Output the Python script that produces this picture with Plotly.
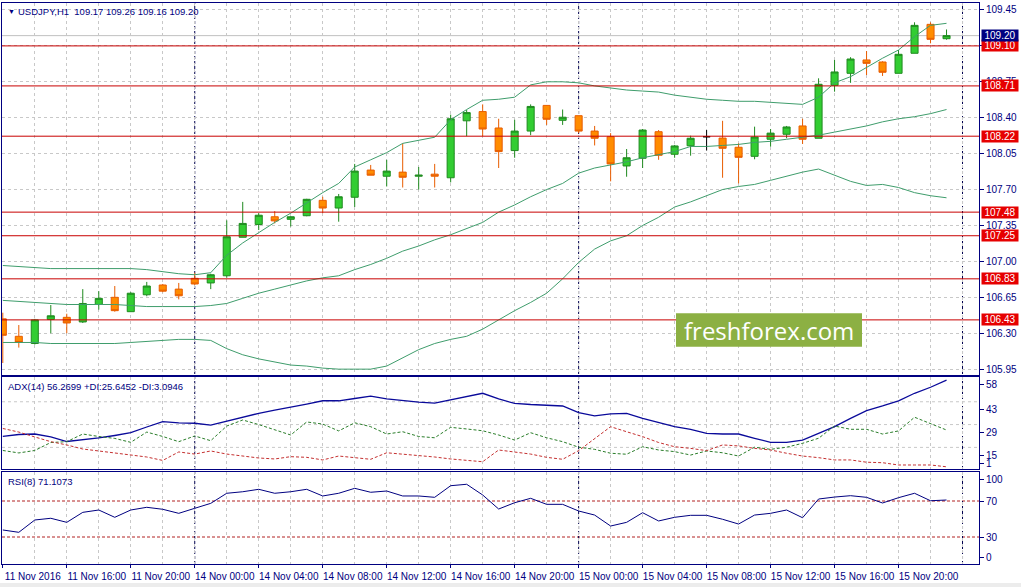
import plotly.graph_objects as go
from plotly.subplots import make_subplots

# USDJPY H1, 11 Nov 2016 12:00 .. 15 Nov 2016 23:00
bar_open = [106.44, 106.27, 106.20, 106.435, 106.455, 106.41, 106.58, 106.65, 106.51, 106.675,
            106.77, 106.73, 106.835, 106.79, 106.86, 107.235, 107.36, 107.435, 107.41, 107.445,
            107.595, 107.52, 107.625, 107.89, 107.83, 107.87, 107.83, 107.85, 107.815, 108.37,
            108.46, 108.30, 108.08, 108.27, 108.52, 108.375, 108.42, 108.27, 108.215, 107.93,
            108.005, 108.264, 108.044, 108.127, 108.215, 108.202, 108.112, 108.024, 108.19, 108.239,
            108.32, 108.20, 108.716, 108.833, 108.963, 108.943, 108.833, 109.028, 109.31, 109.17]
bar_high = [106.50, 106.38, 106.44, 106.575, 106.49, 106.73, 106.71, 106.76, 106.70, 106.80,
            106.78, 106.79, 106.89, 106.88, 107.40, 107.58, 107.47, 107.49, 107.44, 107.61,
            107.63, 107.657, 107.95, 107.94, 107.99, 108.15, 107.92, 107.95, 108.43, 108.475,
            108.53, 108.39, 108.38, 108.53, 108.52, 108.48, 108.42, 108.32, 108.25, 108.095,
            108.29, 108.28, 108.135, 108.225, 108.28, 108.37, 108.15, 108.313, 108.29, 108.32,
            108.39, 108.784, 108.963, 108.99, 109.05, 108.95, 109.06, 109.33, 109.33, 109.26]
bar_low = [106.01, 106.16, 106.19, 106.30, 106.30, 106.40, 106.53, 106.51, 106.51, 106.66,
           106.70, 106.63, 106.77, 106.73, 106.84, 107.235, 107.306, 107.37, 107.34, 107.44,
           107.47, 107.387, 107.53, 107.84, 107.73, 107.72, 107.70, 107.72, 107.77, 108.22,
           108.22, 107.91, 108.01, 108.23, 108.33, 108.33, 108.25, 108.13, 107.78, 107.825,
           107.91, 107.99, 108.01, 108.03, 108.08, 107.815, 107.76, 107.995, 108.118, 108.20,
           108.144, 108.20, 108.654, 108.74, 108.816, 108.807, 108.833, 109.028, 109.125, 109.16]
bar_close = [106.28, 106.21, 106.43, 106.47, 106.40, 106.59, 106.64, 106.52, 106.69, 106.76,
             106.71, 106.665, 106.78, 106.87, 107.24, 107.37, 107.45, 107.395, 107.435, 107.605,
             107.52, 107.63, 107.88, 107.84, 107.88, 107.82, 107.84, 107.83, 108.39, 108.45,
             108.29, 108.07, 108.27, 108.51, 108.385, 108.405, 108.27, 108.20, 107.95, 108.01,
             108.28, 108.034, 108.125, 108.20, 108.215, 108.102, 108.014, 108.212, 108.25, 108.31,
             108.19, 108.726, 108.846, 108.972, 108.93, 108.843, 109.018, 109.30, 109.164, 109.20]

bb_upper = [106.96, 106.95, 106.94, 106.93, 106.93, 106.93, 106.93, 106.93, 106.93, 106.92,
            106.90, 106.88, 106.87, 106.89, 107.06, 107.18, 107.28, 107.38, 107.47, 107.57,
            107.67, 107.76, 107.92, 107.99, 108.06, 108.15, 108.18, 108.21, 108.38, 108.48,
            108.57, 108.58, 108.60, 108.72, 108.75, 108.75, 108.74, 108.71, 108.69, 108.67,
            108.66, 108.65, 108.62, 108.60, 108.58, 108.57, 108.56, 108.56, 108.55, 108.54,
            108.53, 108.60, 108.74, 108.80, 108.89, 108.98, 109.06, 109.19, 109.30, 109.32]
bb_middle = [106.62, 106.61, 106.60, 106.59, 106.58, 106.58, 106.58, 106.58, 106.57, 106.56,
             106.56, 106.56, 106.56, 106.57, 106.59, 106.64, 106.69, 106.73, 106.77, 106.81,
             106.84, 106.86, 106.92, 106.97, 107.03, 107.10, 107.15, 107.21, 107.26, 107.32,
             107.38, 107.48, 107.55, 107.63, 107.70, 107.76, 107.86, 107.91, 107.94, 107.97,
             108.01, 108.04, 108.07, 108.12, 108.12, 108.13, 108.14, 108.16, 108.17, 108.19,
             108.21, 108.23, 108.26, 108.29, 108.32, 108.36, 108.39, 108.41, 108.44, 108.48]
bb_lower = [106.21, 106.21, 106.21, 106.20, 106.20, 106.20, 106.20, 106.20, 106.21, 106.22,
            106.23, 106.24, 106.24, 106.23, 106.15, 106.09, 106.05, 106.02, 105.99, 105.98,
            105.96, 105.95, 105.95, 105.95, 105.98, 106.06, 106.14, 106.20, 106.24, 106.27,
            106.34, 106.43, 106.52, 106.60, 106.69, 106.83, 106.99, 107.12, 107.20, 107.25,
            107.35, 107.43, 107.53, 107.58, 107.64, 107.70, 107.73, 107.75, 107.79, 107.83,
            107.87, 107.90, 107.84, 107.78, 107.74, 107.75, 107.72, 107.67, 107.64, 107.62]

adx = [21.7, 22.9, 23.2, 21.4, 18.6, 19.5, 20.8, 22.3, 24.0, 27.5,
       30.8, 30.0, 29.8, 28.7, 31.2, 33.6, 35.9, 37.9, 39.6, 41.6,
       43.6, 43.6, 45.0, 46.5, 44.7, 43.6, 42.8, 42.2, 44.1, 46.2,
       48.2, 44.7, 42.0, 41.3, 41.0, 40.4, 36.3, 34.3, 35.5, 35.9,
       32.8, 30.3, 27.7, 26.1, 23.6, 23.2, 23.2, 20.6, 18.1, 18.1,
       19.5, 23.6, 27.7, 32.8, 37.5, 40.4, 43.6, 48.2, 51.9, 56.27]
plus_di = [13.1, 11.6, 13.1, 18.0, 18.5, 23.2, 21.7, 20.5, 18.1, 24.4,
           21.7, 18.5, 22.0, 19.1, 28.1, 31.8, 29.0, 25.7, 22.6, 30.6,
           29.3, 25.1, 30.1, 27.7, 23.2, 24.6, 21.7, 20.9, 27.3, 26.3,
           25.2, 22.6, 19.5, 24.0, 20.9, 18.5, 15.1, 13.8, 11.4, 10.8,
           15.4, 13.4, 12.4, 10.3, 12.8, 11.7, 9.7, 15.1, 13.8, 15.1,
           17.5, 20.6, 28.1, 26.1, 26.1, 23.2, 25.1, 33.5, 29.8, 25.65]
minus_di = [26.6, 24.4, 21.4, 18.5, 16.5, 14.0, 12.8, 11.6, 10.3, 9.1,
            7.0, 12.2, 10.9, 12.8, 10.9, 9.7, 8.5, 7.9, 9.3, 8.9,
            7.3, 9.7, 8.9, 7.7, 11.7, 10.9, 10.0, 9.1, 7.9, 7.0,
            6.2, 13.4, 12.0, 10.9, 8.9, 7.7, 13.0, 20.6, 27.7, 24.6,
            21.6, 18.0, 15.4, 14.4, 13.0, 16.5, 15.9, 14.4, 13.4, 11.4,
            9.7, 8.7, 7.3, 7.3, 5.9, 5.6, 4.2, 4.2, 4.2, 3.09]
rsi = [37.8, 35.2, 48.9, 50.8, 46.3, 57.4, 60.0, 51.9, 60.0, 63.0,
       60.8, 56.3, 61.9, 67.4, 78.6, 80.3, 83.0, 78.6, 80.3, 83.0,
       75.6, 78.6, 84.1, 79.7, 81.1, 75.6, 75.6, 74.1, 87.0, 88.6,
       76.7, 61.1, 68.1, 73.0, 66.3, 66.3, 58.9, 54.4, 42.2, 46.3,
       57.0, 47.8, 51.9, 54.1, 54.1, 49.7, 44.4, 54.4, 56.3, 60.0,
       51.4, 72.2, 74.4, 75.9, 74.1, 67.8, 73.7, 78.6, 70.3, 71.11]

levels = [109.10, 108.71, 108.22, 107.48, 107.25, 106.83, 106.43]
bid = 109.20
price_ticks = [109.45, 109.10, 108.75, 108.40, 108.05, 107.70, 107.35, 107.00, 106.65, 106.30, 105.95]
x_labels = ["11 Nov 2016", "11 Nov 16:00", "11 Nov 20:00", "14 Nov 00:00", "14 Nov 04:00",
            "14 Nov 08:00", "14 Nov 12:00", "14 Nov 16:00", "14 Nov 20:00", "15 Nov 00:00",
            "15 Nov 04:00", "15 Nov 08:00", "15 Nov 12:00", "15 Nov 16:00", "15 Nov 20:00"]
day_breaks = [12, 36, 60]
rsi_levels = [70, 30]
adx_grid = [43, 29, 15]

NAVY = "#000080"
GRID = "#c8c8c8"
FONT = "Liberation Sans"

def px_x(p):
    return (p - 2) / 977

def px_y(p):
    return (564 - p) / 561

xs = list(range(len(bar_open)))
norm = [i for i in xs if bar_open[i] != bar_close[i]]
doji = [i for i in xs if bar_open[i] == bar_close[i]]

fig = make_subplots(rows=3, cols=1, shared_xaxes=True, vertical_spacing=0.0)

for band in (bb_upper, bb_middle, bb_lower):
    fig.add_trace(go.Scatter(x=xs, y=band, mode="lines", line=dict(color="#3f9d6c", width=1),
                             hoverinfo="skip"), row=1, col=1)

fig.add_trace(go.Candlestick(
    x=norm,
    open=[bar_open[i] for i in norm], high=[bar_high[i] for i in norm],
    low=[bar_low[i] for i in norm], close=[bar_close[i] for i in norm],
    increasing=dict(line=dict(color="#1f8a1f", width=1), fillcolor="#32cd32"),
    decreasing=dict(line=dict(color="#e85d00", width=1), fillcolor="#ff8c00"),
    whiskerwidth=0,
), row=1, col=1)
fig.add_trace(go.Candlestick(
    x=doji,
    open=[bar_open[i] for i in doji], high=[bar_high[i] for i in doji],
    low=[bar_low[i] for i in doji], close=[bar_close[i] for i in doji],
    increasing=dict(line=dict(color="black", width=1), fillcolor="black"),
    decreasing=dict(line=dict(color="black", width=1), fillcolor="black"),
    whiskerwidth=0,
), row=1, col=1)

fig.add_trace(go.Scatter(x=xs, y=adx, mode="lines", line=dict(color="#0a0a9a", width=1.3)), row=2, col=1)
fig.add_trace(go.Scatter(x=xs, y=plus_di, mode="lines",
                         line=dict(color="#2a7d2a", width=1, dash="3px,2px")), row=2, col=1)
fig.add_trace(go.Scatter(x=xs, y=minus_di, mode="lines",
                         line=dict(color="#c43030", width=1, dash="3px,2px")), row=2, col=1)

fig.add_trace(go.Scatter(x=xs, y=rsi, mode="lines", line=dict(color=NAVY, width=1)), row=3, col=1)

x_common = dict(
    range=[-0.05, 61.03], showline=True, linecolor=NAVY, linewidth=1, mirror=True,
    tickmode="array", tickvals=list(range(0, 60, 4)), ticktext=x_labels,
    showgrid=True, gridcolor=GRID, griddash="3px,3px", gridwidth=1, zeroline=False,
    minor=dict(dtick=2, tick0=0, showgrid=True, gridcolor=GRID, griddash="3px,3px", ticks=""),
    rangeslider=dict(visible=False),
)
fig.update_layout(
    xaxis=dict(x_common, showticklabels=False, ticks=""),
    xaxis2=dict(x_common, showticklabels=False, ticks=""),
    xaxis3=dict(x_common, ticks="outside", ticklen=3, tickcolor=NAVY, ticklabelshift=30,
                tickfont=dict(family=FONT, size=10, color=NAVY)),
)

y_common = dict(side="right", showline=True, linecolor=NAVY, linewidth=1, mirror=True,
                ticks="outside", ticklen=4, tickcolor=NAVY, zeroline=False,
                tickfont=dict(family=FONT, size=10, color=NAVY))
fig.update_layout(
    yaxis=dict(y_common, domain=[px_y(375), 1.0], range=[105.893, 109.518],
               tickvals=price_ticks, ticktext=[f"{v:.2f}" for v in price_ticks],
               showgrid=True, gridcolor=GRID, griddash="3px,3px"),
    yaxis2=dict(y_common, domain=[px_y(469), px_y(377.3)], range=[1.74, 58],
                tickvals=[53.3, 38.4, 24.0, 9.9, 5.2], ticktext=["58", "43", "29", "15", "1"],
                showgrid=False),
    yaxis3=dict(y_common, domain=[0, px_y(472.3)], range=[0, 101.9],
                tickvals=[94.4, 70, 30, 6.7], ticktext=["100", "70", "30", "0"],
                showgrid=False),
)

# grid of the ADX window and the RSI levels
for v in adx_grid:
    fig.add_shape(type="line", xref="x2 domain", x0=0, x1=1, yref="y2", y0=v, y1=v,
                  line=dict(color=GRID, width=1, dash="3px,3px"), layer="below")
for v in rsi_levels:
    fig.add_shape(type="line", xref="x3 domain", x0=0, x1=1, yref="y3", y0=v, y1=v,
                  line=dict(color="#b22222", width=1, dash="3px,2px"), layer="below")

# day separators
for d in day_breaks:
    fig.add_shape(type="line", xref="x", x0=d, x1=d, yref="paper", y0=0, y1=1,
                  line=dict(color="#000050", width=1, dash="3px,2px"), layer="below")

# bid line and horizontal levels
fig.add_shape(type="line", xref="x domain", x0=0, x1=1, yref="y", y0=bid, y1=bid,
              line=dict(color="#c0c0c0", width=1), layer="below")
for lv in levels:
    fig.add_shape(type="line", xref="x domain", x0=0, x1=1, yref="y", y0=lv, y1=lv,
                  line=dict(color="#c80000", width=1), layer="above")
    fig.add_annotation(x=1, xref="paper", xanchor="left", xshift=2, y=lv, yref="y",
                       yanchor="middle", text=f"{lv:.2f}", showarrow=False, bgcolor="#e60000",
                       width=36, height=11, borderpad=0,
                       font=dict(family=FONT, size=10, color="white"))
fig.add_annotation(x=1, xref="paper", xanchor="left", xshift=2, y=bid, yref="y",
                   yanchor="middle", text=f"{bid:.2f}", showarrow=False, bgcolor=NAVY,
                   width=36, height=11, borderpad=0,
                   font=dict(family=FONT, size=10, color="white"))

# titles of the windows
titles = [
    (6, 12, "▼", 7),
    (16, 12, "USDJPY,H1  109.17 109.26 109.16 109.20", 9.5),
    (6, 386, "ADX(14) 56.2699 +DI:25.6452 -DI:3.0946", 9.5),
    (6, 482, "RSI(8) 71.1073", 9.5),
]
for tx, ty, txt, fs in titles:
    fig.add_annotation(x=px_x(tx), y=px_y(ty), xref="paper", yref="paper",
                       xanchor="left", yanchor="middle", text=txt, showarrow=False,
                       font=dict(family=FONT, size=fs, color=NAVY))

# watermark
fig.add_shape(type="rect", xref="paper", yref="paper", x0=px_x(676), x1=px_x(862),
              y0=px_y(346.7), y1=px_y(313.3), fillcolor="#8cb043", line=dict(width=0), layer="above")
fig.add_annotation(x=px_x(769), y=px_y(330), xref="paper", yref="paper",
                   xanchor="center", yanchor="middle", text="freshforex.com",
                   showarrow=False, font=dict(family="Open Sans", size=24, color="white"))

# grey strip under the time scale
fig.add_shape(type="rect", xref="paper", yref="paper", x0=-0.01, x1=1.05,
              y0=px_y(590), y1=px_y(583), fillcolor="#ececec", line=dict(width=0))

fig.update_layout(
    width=1021, height=587,
    margin=dict(l=2, r=42, t=3, b=23),
    paper_bgcolor="white", plot_bgcolor="white",
    showlegend=False, boxgap=0.37,
    font=dict(family=FONT, size=10, color=NAVY),
)

# the page margin of the browser would push the figure 8px off the window
fig.write_html("out.html", config={"displayModeBar": False},
               post_script="document.body.style.margin='0px';")
